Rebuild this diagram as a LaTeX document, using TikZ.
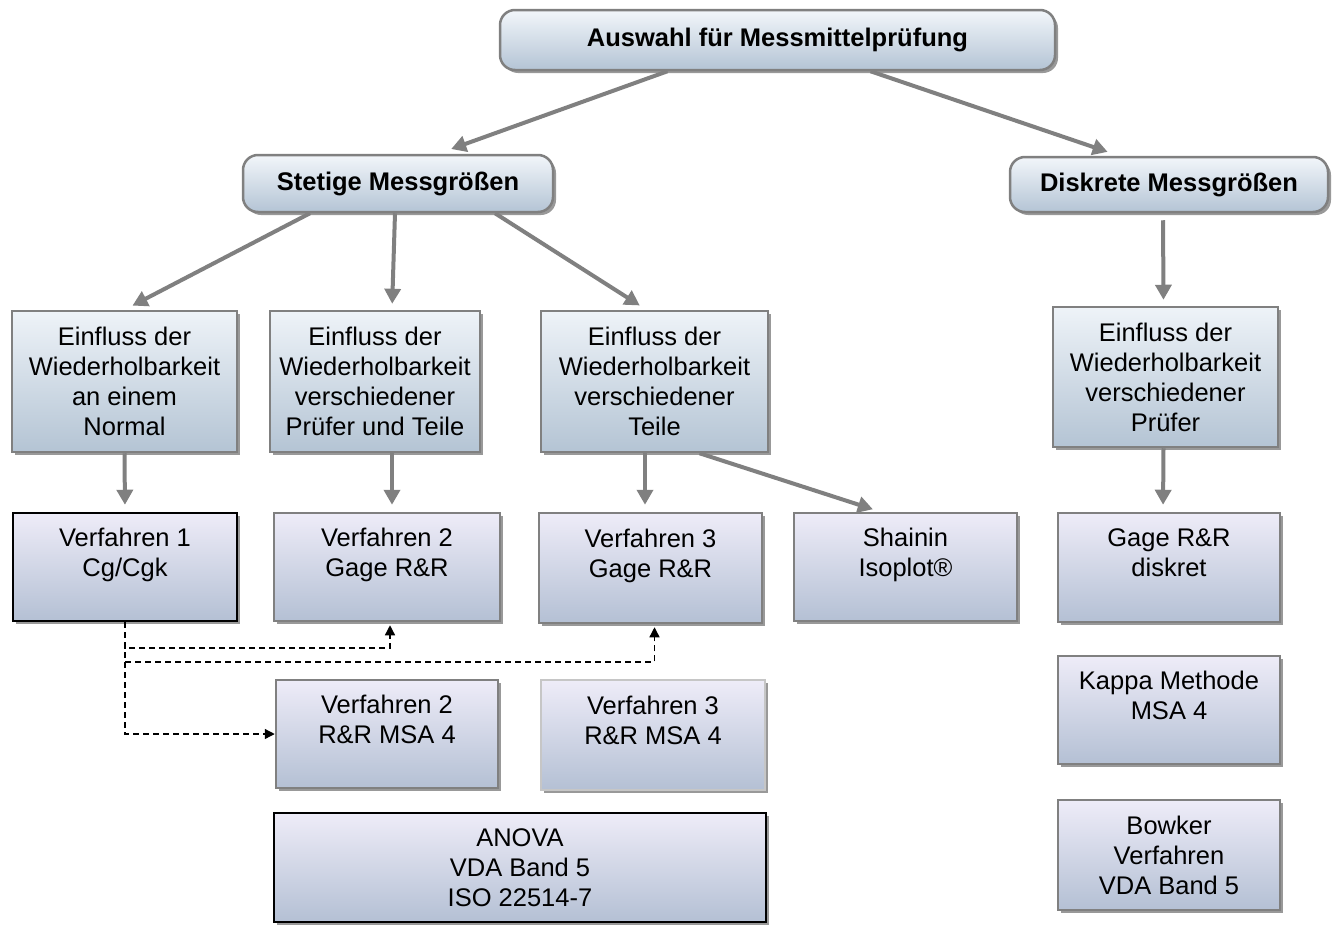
\documentclass[tikz,border=0pt]{standalone}
\usepackage{fontspec}
\setmainfont{Liberation Sans}
\usetikzlibrary{arrows.meta,shadows}

\definecolor{kopfoben}{RGB}{242,246,250}
\definecolor{kopfunten}{RGB}{180,196,213}
\definecolor{blauoben}{RGB}{238,243,248}
\definecolor{blauunten}{RGB}{180,196,212}
\definecolor{lilaoben}{RGB}{238,236,248}
\definecolor{lilamitte}{RGB}{188,188,228}
\definecolor{lilaunten}{RGB}{180,192,212}
\definecolor{rand}{RGB}{128,128,128}
\definecolor{pfeilgrau}{RGB}{128,128,128}

\tikzset{
	schatten/.style={drop shadow={shadow xshift=3pt,shadow yshift=-3pt,opacity=0.4,fill=black}},
	kopfbox/.style={draw=rand,line width=2.5pt,rounded corners=15pt,top color=kopfoben,bottom color=kopfunten,schatten,
		font=\fontsize{25.5}{30}\selectfont\bfseries,align=center,inner sep=0pt},
	blaubox/.style={draw=rand,line width=2.5pt,top color=blauoben,bottom color=blauunten,schatten,
		font=\fontsize{25.5}{30}\selectfont,align=center,inner sep=0pt},
	lilabox/.style={draw=rand,line width=2.5pt,top color=lilaoben,middle color=lilamitte,bottom color=lilaunten,schatten,
		font=\fontsize{25.5}{30}\selectfont,align=center,inner sep=0pt},
	dickbox/.style={lilabox,draw=black},
	hellbox/.style={lilabox,draw=rand!45},
	pfeil/.style={draw=pfeilgrau,line width=4pt,-{Triangle[length=15pt,width=16pt]}},
	gestrichelt/.style={draw=black,line width=1.3pt,dash pattern=on 6pt off 4pt,-{Triangle[length=10pt,width=10pt]}}
}

\begin{document}
\begin{tikzpicture}[x=1pt,y=-1pt]
	\path[use as bounding box,fill=white] (0,0) rectangle (1341,926);

	%top
	\node[kopfbox,minimum width=555,minimum height=60] (auswahl) at (777.5,40) {Auswahl f\"ur Messmittelpr\"ufung};
	\node[kopfbox,minimum width=310,minimum height=57] (stetig) at (398,183.5) {Stetige Messgr\"o\ss en};
	\node[kopfbox,minimum width=318,minimum height=55] (diskret) at (1169,184.5) {Diskrete Messgr\"o\ss en};

	%Einfluss
	\node[blaubox,minimum width=225,minimum height=141] (einfl1) at (124.5,381.5) {Einfluss der\\Wiederholbarkeit\\an einem\\Normal};
	\node[blaubox,minimum width=210,minimum height=141] (einfl2) at (375,381.5) {Einfluss der\\Wiederholbarkeit\\verschiedener\\Pr\"ufer und Teile};
	\node[blaubox,minimum width=227,minimum height=141] (einfl3) at (654.5,381.5) {Einfluss der\\Wiederholbarkeit\\verschiedener\\Teile};
	\node[blaubox,minimum width=225,minimum height=140] (einfl4) at (1165.5,377) {Einfluss der\\Wiederholbarkeit\\verschiedener\\Pr\"ufer};

	%Verfahren
	\node[dickbox,minimum width=224,minimum height=108] (verf1) at (125,567) {Verfahren 1\\Cg/Cgk\\~};
	\node[lilabox,minimum width=226,minimum height=108] (verf2) at (387,567) {Verfahren 2\\Gage R\&R\\~};
	\node[lilabox,minimum width=223,minimum height=110] (verf3) at (650.5,568) {Verfahren 3\\Gage R\&R\\~};
	\node[lilabox,minimum width=223,minimum height=108] (shainin) at (905.5,567) {Shainin\\Isoplot\textregistered\\~};
	\node[lilabox,minimum width=222,minimum height=109] (gaged) at (1169,567.5) {Gage R\&R\\diskret\\~};

	\node[lilabox,minimum width=222,minimum height=108] (verf2msa) at (387,734) {Verfahren 2\\R\&R MSA 4\\~};
	\node[hellbox,minimum width=224,minimum height=110] (verf3msa) at (653,735) {Verfahren 3\\R\&R MSA 4\\~};
	\node[lilabox,minimum width=222,minimum height=108] (kappa) at (1169,710) {Kappa Methode\\MSA 4\\~};

	\node[dickbox,minimum width=492,minimum height=109] (anova) at (520,867.5) {ANOVA\\VDA Band 5\\ISO 22514-7};
	\node[lilabox,minimum width=222,minimum height=110] (bowker) at (1169,855) {Bowker\\Verfahren\\VDA Band 5};

	%arrows
	\draw[pfeil,shorten >=14pt] ([xshift=-110]auswahl.south) -- ([xshift=40]stetig.north);
	\draw[pfeil,shorten >=12pt] ([xshift=93]auswahl.south) -- ([xshift=-50]diskret.north);
	\draw[pfeil,shorten >=9pt] ([xshift=-88]stetig.south) -- (einfl1.north);
	\draw[pfeil,shorten >=6pt] ([xshift=-3]stetig.south) -- ([xshift=17]einfl2.north);
	\draw[pfeil,shorten >=8pt] ([xshift=97]stetig.south) -- ([xshift=-8]einfl3.north);
	\draw[pfeil,shorten <=7pt,shorten >=6pt] ([xshift=-6]diskret.south) -- ([xshift=-2]einfl4.north);
	\draw[pfeil,shorten >=7pt] (einfl1.south) -- (verf1.north);
	\draw[pfeil,shorten >=7pt] ([xshift=17]einfl2.south) -- ([xshift=5]verf2.north);
	\draw[pfeil,shorten >=7pt] ([xshift=-9.5]einfl3.south) -- ([xshift=-5.5]verf3.north);
	\draw[pfeil,shorten >=8pt] ([xshift=45]einfl3.south) -- ([xshift=-25]shainin.north);
	\draw[pfeil,shorten >=7pt] ([xshift=-2]einfl4.south) -- ([xshift=-6]gaged.north);

	%dashed
	\coordinate (knick1) at (125,648);
	\coordinate (knick2) at (125,662);
	\draw[gestrichelt,shorten >=3pt] (verf1.south) -- (knick1) -| ([xshift=3]verf2.south);
	\draw[gestrichelt,shorten >=3pt] (verf1.south) -- (knick2) -| ([xshift=4]verf3.south);
	\draw[gestrichelt] (verf1.south) |- (verf2msa.west);
\end{tikzpicture}
\end{document}
